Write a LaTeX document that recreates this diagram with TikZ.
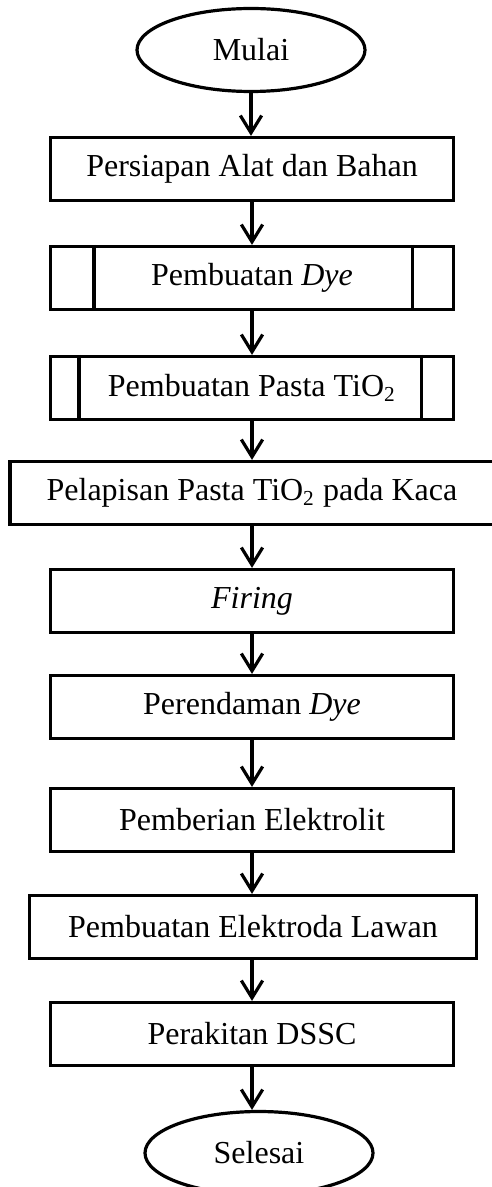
\documentclass[tikz,border=0pt]{standalone}
\usepackage{fontspec}
\setmainfont{Liberation Serif}
\usetikzlibrary{arrows.meta,shapes.geometric,calc}
\newcommand{\pu}{0.375pt}
\tikzset{
  box/.style={draw, line width=1.2pt, minimum width=403*\pu, minimum height=63*\pu,
              inner sep=2pt, font=\fontsize{12}{14}\selectfont, align=center},
  term/.style={draw, ellipse, line width=1.2pt, minimum width=228*\pu, minimum height=83*\pu,
              inner sep=0pt, font=\fontsize{12}{14}\selectfont},
  flow/.style={-{Straight Barb[length=6.5pt,width=8pt]}, line width=1.2pt},
  bar/.style={line width=1.2pt},
}
\begin{document}
\begin{tikzpicture}[x=\pu,y=-\pu]
    \useasboundingbox (0,0) rectangle (491,1187);
    \node[term] (mulai) at (251,50) {Mulai};
    \node[box] (b1) at (252,169) {Persiapan Alat dan Bahan};
    \node[box] (b2) at (252,278) {Pembuatan \textit{Dye}};
    \node[box] (b3) at (252,388) {Pembuatan Pasta TiO\textsubscript{2}};
    \node[box,minimum width=484*\pu] (b4) at (252,493) {Pelapisan Pasta TiO\textsubscript{2} pada Kaca};
    \node[box] (b5) at (252,601) {\textit{Firing}};
    \node[box] (b6) at (252,707) {Perendaman \textit{Dye}};
    \node[box] (b7) at (252,820) {Pemberian Elektrolit};
    \node[box,minimum width=447*\pu] (b8) at (253,927) {Pembuatan Elektroda Lawan};
    \node[box] (b9) at (252,1034) {Perakitan DSSC};
    \node[term] (selesai) at (259,1153) {Selesai};
    % side bars of the sub-process boxes
    \draw[bar] ($(b2.north west)+(45,0)$) -- ($(b2.south west)+(45,0)$);
    \draw[bar] ($(b2.north east)+(-43,0)$) -- ($(b2.south east)+(-43,0)$);
    \draw[bar] ($(b3.north west)+(30,0)$) -- ($(b3.south west)+(30,0)$);
    \draw[bar] ($(b3.north east)+(-34,0)$) -- ($(b3.south east)+(-34,0)$);
    % arrows
    \draw[flow] (mulai) -- (mulai |- b1.north);
    \draw[flow] (b1) -- (b2);
    \draw[flow] (b2) -- (b3);
    \draw[flow] (b3) -- (b4);
    \draw[flow] (b4) -- (b5);
    \draw[flow] (b5) -- (b6);
    \draw[flow] (b6) -- (b7);
    \draw[flow] (b7) -- (b7 |- b8.north);
    \draw[flow] (b8.south -| b9) -- (b9);
    \draw[flow] (b9) -- (b9 |- selesai.north);
  \end{tikzpicture}
\end{document}
